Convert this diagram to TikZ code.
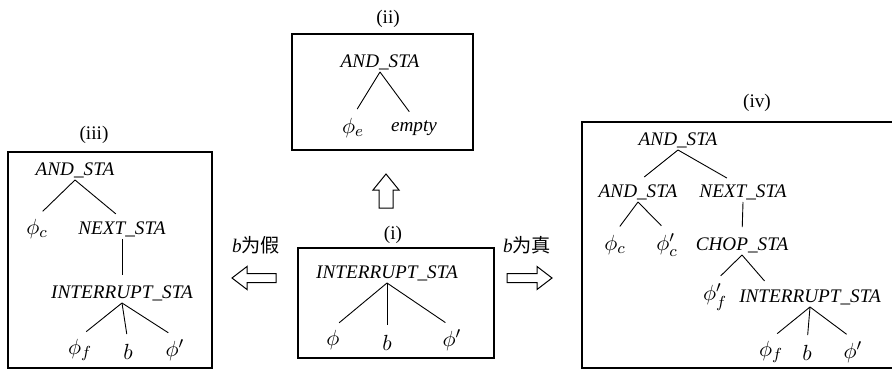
\documentclass[tikz,border=0pt]{standalone}
\usepackage{fontspec}
\setmainfont{Liberation Serif}
\newfontfamily\cjk{Noto Sans CJK SC}
\usetikzlibrary{calc}

\tikzset{
  lab/.style={font=\fontsize{9.6}{11}\selectfont, inner sep=1pt},
  sym/.style={lab, font=\fontsize{9.6}{11}\selectfont\itshape},
  var/.style={lab, font=\fontsize{10.8}{12}\selectfont},
  link/.style={line width=0.45pt, shorten >=4pt},
  frame/.style={line width=0.6pt},
  hollow/.style={line width=0.5pt, fill=white},
}

\begin{document}
\begin{tikzpicture}[x=0.5pt,y=-0.5pt]
\useasboundingbox (0,0) rectangle (892,369);

% (ii)
\draw[frame] (292,34) rectangle (473,150);
\node[lab] (lblii) at (388,19) {(ii)};
\node[sym] (andii) at (380,62) {AND\_STA};
\node[var] (phie) at (353,128) {$\phi_e$};
\node[sym] (emptyii) at (414,128) {empty};
\draw[link] (andii.south) -- (phie.north);
\draw[link] (andii.south) -- (emptyii.north);

% (i)
\draw[frame] (298,248) rectangle (494,358);
\node[lab] (lbli) at (393,235) {(i)};
\node[sym] (inti) at (387,273) {INTERRUPT\_STA};
\node[var] (phii) at (333,340) {$\phi$};
\node[var] (bi) at (387,343) {$b$};
\node[var] (phipi) at (452,340) {$\phi'$};
\draw[link] (inti.south) -- (phii.north);
\draw[link] (inti.south) -- (bi.north);
\draw[link] (inti.south) -- (phipi.north);

% arrows
\draw[hollow] (379,208) -- (379,190) -- (373,190) -- (386,174) -- (399,190) -- (393,190) -- (393,208) -- cycle;
\draw[hollow] (276,273.5) -- (247,273.5) -- (247,266.5) -- (232,278) -- (247,289.5) -- (247,282.5) -- (276,282.5) -- cycle;
\draw[hollow] (507,273.5) -- (537,273.5) -- (537,266.5) -- (552,278) -- (537,289.5) -- (537,282.5) -- (507,282.5) -- cycle;
\node[lab] (bfalse) at (256,245) {\textit{b}{\cjk 为假}};
\node[lab] (btrue) at (527,245) {\textit{b}{\cjk 为真}};

% (iii)
\draw[frame] (8,152) rectangle (212,368);
\node[lab] (lbliii) at (94,135) {(iii)};
\node[sym] (andiii) at (75,170) {AND\_STA};
\node[var] (phiciii) at (37,229) {$\phi_c$};
\node[sym] (nextiii) at (122,229) {NEXT\_STA};
\node[sym] (intiii) at (122,293) {INTERRUPT\_STA};
\node[var] (phifiii) at (80,350) {$\phi_f$};
\node[var] (biii) at (128,352) {$b$};
\node[var] (phipiii) at (175,350) {$\phi'$};
\draw[link] (andiii.south) -- (phiciii.north);
\draw[link] (andiii.south) -- (nextiii.north);
\draw[link] (nextiii.south) -- (intiii.north);
\draw[link] (intiii.south) -- (phifiii.north);
\draw[link] (intiii.south) -- (biii.north);
\draw[link] (intiii.south) -- (phipiii.north);

% (iv)
\draw[frame] (582,122) rectangle (896,368);
\node[lab] (lbliv) at (757,103) {(iv)};
\node[sym] (andiv) at (678,140) {AND\_STA};
\node[sym] (andbiv) at (638,192) {AND\_STA};
\node[sym] (nextiv) at (743,192) {NEXT\_STA};
\node[var] (phiciv) at (615,245) {$\phi_c$};
\node[var] (phipciv) at (667,245) {$\phi'_c$};
\node[sym] (chopiv) at (742,245) {CHOP\_STA};
\node[var] (phipfiv) at (715,297) {$\phi'_f$};
\node[sym] (intiv) at (810,297) {INTERRUPT\_STA};
\node[var] (phifiv) at (771,352) {$\phi_f$};
\node[var] (biv) at (807,353) {$b$};
\node[var] (phipiv) at (853,352) {$\phi'$};
\draw[link] (andiv.south) -- (andbiv.north);
\draw[link] (andiv.south) -- ($(nextiv.north)!0.2!(nextiv.north west)$);
\draw[link] (andbiv.south) -- (phiciv.north);
\draw[link] (andbiv.south) -- (phipciv.north);
\draw[link] (nextiv.south) -- (chopiv.north);
\draw[link] (chopiv.south) -- (phipfiv.north);
\draw[link] (chopiv.south) -- ($(intiv.north)!0.55!(intiv.north west)$);
\draw[link] (intiv.south) -- (phifiv.north);
\draw[link] (intiv.south) -- (biv.north);
\draw[link] (intiv.south) -- (phipiv.north);
\end{tikzpicture}
\end{document}
